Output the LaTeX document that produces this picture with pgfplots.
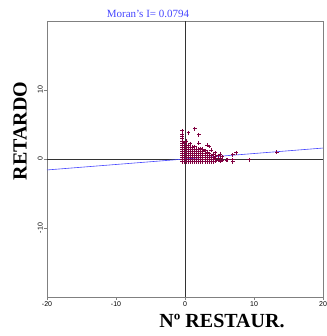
\documentclass[border=0pt]{standalone}
\usepackage{pgfplots}
\pgfplotsset{compat=1.18}
\usepackage{fontspec}
\setmainfont{Liberation Serif}
\newfontfamily\arialfont{Liberation Sans}
\definecolor{pts}{RGB}{128,0,64}
\definecolor{reg}{RGB}{70,70,255}
\definecolor{frame}{RGB}{128,128,128}
\begin{document}
\begin{tikzpicture}
\path[use as bounding box] (0pt,0pt) rectangle (326pt,336pt);
\begin{axis}[at={(47pt,39pt)}, anchor=south west,
  scale only axis, width=276pt, height=276pt,
  xmin=-20, xmax=20, ymin=-20, ymax=20,
  xtick={-20,-10,0,10,20}, xticklabels={-20,-10,0,10,20},
  ytick={-10,0,10}, yticklabels={-10,0,10},
  xtick pos=left, ytick pos=left, tick align=outside,
  major tick length=3pt,
  axis line style={frame, line width=0.6pt},
  tick style={frame, line width=0.6pt},
  tick label style={font=\arialfont\fontsize{7}{8}\selectfont, inner sep=1pt},
  yticklabel style={rotate=90, anchor=south},
  xticklabel style={anchor=north},
  clip=false]
\draw[black!80, line width=0.5pt] (axis cs:0,-20) -- (axis cs:0,20);
\draw[black!80, line width=0.5pt] (axis cs:-20,0) -- (axis cs:20,0);
\addplot[reg, line width=0.6pt] coordinates {(-20,-1.588) (20,1.588)};
\addplot[only marks, mark=+, mark size=1.9pt, pts, line width=1pt] coordinates {
(-0.4,-0.4) (-0.4,-0.1) (-0.4,0.2) (-0.4,0.5) (-0.4,0.8) (-0.4,1.1) (-0.4,1.4) (-0.4,1.7) (-0.4,2.0) (-0.4,2.3) (-0.4,2.6) (-0.4,2.9) (-0.4,3.2) (-0.4,3.5) (-0.4,4.1)
(-0.1,-0.4) (-0.1,-0.1) (-0.1,0.2) (-0.1,0.5) (-0.1,0.8) (-0.1,1.1) (-0.1,1.4) (-0.1,1.7) (-0.1,2.0) (-0.1,2.4)
(0.2,-0.4) (0.2,-0.1) (0.2,0.2) (0.2,0.5) (0.2,0.8) (0.2,1.1) (0.2,1.4) (0.2,1.7) (0.2,2.0) (0.2,2.6)
(0.5,-0.4) (0.5,-0.1) (0.5,0.2) (0.5,0.5) (0.5,0.8) (0.5,1.1) (0.5,1.4) (0.5,1.7) (0.5,2.0) (0.5,3.8)
(0.8,-0.4) (0.8,-0.1) (0.8,0.2) (0.8,0.5) (0.8,0.8) (0.8,1.1) (0.8,1.4) (0.8,1.7) (0.8,2.2)
(1.1,-0.4) (1.1,-0.1) (1.1,0.2) (1.1,0.5) (1.1,0.8) (1.1,1.1) (1.1,1.4) (1.1,1.7)
(1.4,-0.4) (1.4,-0.1) (1.4,0.2) (1.4,0.5) (1.4,0.8) (1.4,1.1) (1.4,1.4) (1.4,1.8) (1.4,4.4)
(1.7,-0.4) (1.7,-0.1) (1.7,0.2) (1.7,0.5) (1.7,0.8) (1.7,1.1) (1.7,1.4)
(2.0,-0.4) (2.0,-0.1) (2.0,0.2) (2.0,0.5) (2.0,0.8) (2.0,1.1) (2.0,1.4) (2.0,2.3) (2.0,3.5)
(2.3,-0.4) (2.3,-0.1) (2.3,0.2) (2.3,0.5) (2.3,0.8) (2.3,1.1) (2.3,1.5)
(2.6,-0.4) (2.6,-0.1) (2.6,0.2) (2.6,0.5) (2.6,0.8) (2.6,1.1) (2.6,1.4)
(2.9,-0.4) (2.9,-0.1) (2.9,0.2) (2.9,0.5) (2.9,0.8) (2.9,1.2)
(3.2,-0.4) (3.2,-0.1) (3.2,0.2) (3.2,0.5) (3.2,0.8) (3.2,1.0) (3.2,2.0)
(3.5,-0.4) (3.5,-0.1) (3.5,0.2) (3.5,0.5) (3.5,0.8) (3.5,1.8)
(3.8,-0.4) (3.8,-0.1) (3.8,0.2) (3.8,0.5) (3.8,1.3)
(4.1,-0.4) (4.1,-0.1) (4.1,0.2) (4.1,0.6)
(4.4,-0.3) (4.4,0.0) (4.4,0.3) (4.4,0.9)
(4.8,-0.2) (4.8,0.1) (4.8,0.5)
(5.1,-0.3) (5.1,0.0) (5.1,0.7) (5.4,0.3) (5.4,-0.2)
(6.0,-0.2) (6.2,-0.1) (6.9,0.6) (6.9,-0.1) (6.9,-0.4) (7.4,0.9) (9.3,-0.1) (13.3,1.0)
};
\end{axis}
\node[reg, font=\fontsize{11}{12}\selectfont] at (148pt,322pt) {Moran's I= 0.0794};
\node[font=\fontsize{20}{22}\selectfont\bfseries] at (222pt,15pt) {Nº RESTAUR.};
\node[font=\fontsize{20}{22}\selectfont\bfseries, rotate=90] at (20pt,205pt) {RETARDO};
\end{tikzpicture}
\end{document}
